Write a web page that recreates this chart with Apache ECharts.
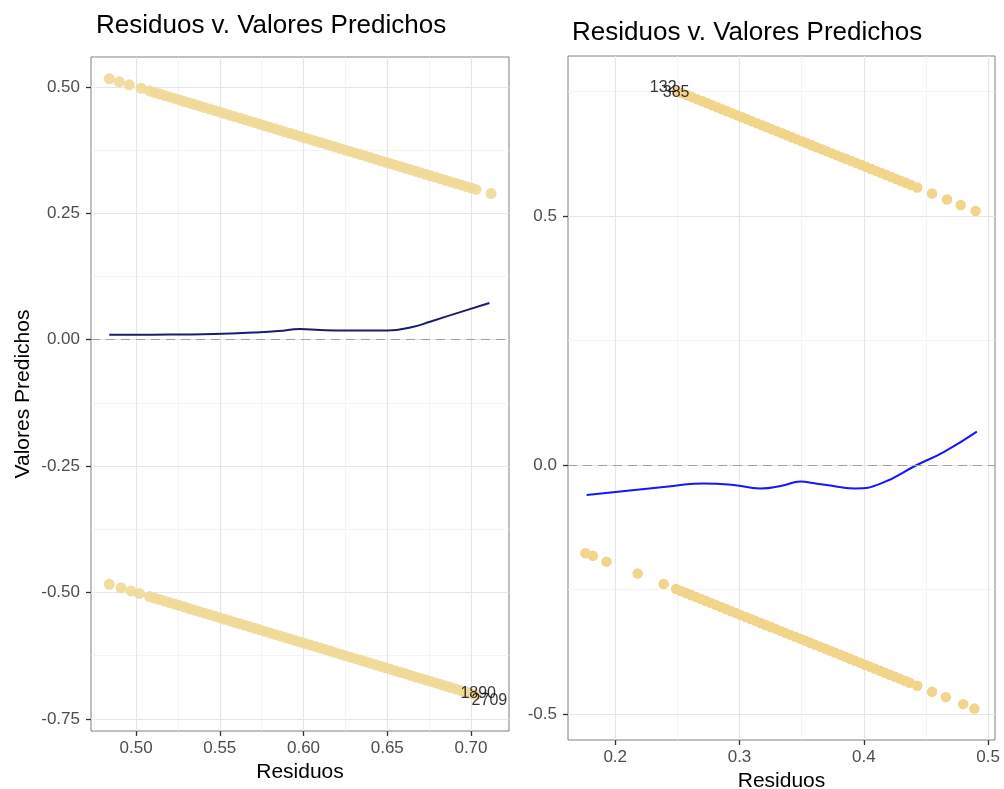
<!DOCTYPE html>
<html>
<head>
<meta charset="utf-8">
<script src="https://cdn.jsdelivr.net/npm/echarts@6/dist/echarts.min.js"></script>
<style>
  html, body { margin: 0; padding: 0; background: #fff; }
  #chart { width: 1004px; height: 789px; }
</style>
</head>
<body>
<div id="chart"></div>
<script>
// panel izquierdo: bandas de puntos
var leftUpperX = [0.484,0.490,0.496,0.503,0.508,0.511,0.514,0.517,0.520,0.523,0.526,0.529,0.532,0.535,0.538,0.541,0.544,0.547,0.550,0.553,0.556,0.559,0.562,0.565,0.568,0.571,0.574,0.577,0.580,0.583,0.586,0.589,0.592,0.595,0.598,0.601,0.604,0.607,0.610,0.613,0.616,0.619,0.622,0.625,0.628,0.631,0.634,0.637,0.640,0.643,0.646,0.649,0.652,0.655,0.658,0.661,0.664,0.667,0.670,0.673,0.676,0.679,0.682,0.685,0.688,0.691,0.694,0.697,0.700,0.703,0.712];
var leftUpperY = [0.516,0.510,0.504,0.497,0.492,0.489,0.486,0.483,0.480,0.477,0.474,0.471,0.468,0.465,0.462,0.459,0.456,0.453,0.450,0.447,0.444,0.441,0.438,0.435,0.432,0.429,0.426,0.423,0.420,0.417,0.414,0.411,0.408,0.405,0.402,0.399,0.396,0.393,0.390,0.387,0.384,0.381,0.378,0.375,0.372,0.369,0.366,0.363,0.360,0.357,0.354,0.351,0.348,0.345,0.342,0.339,0.336,0.333,0.330,0.327,0.324,0.321,0.318,0.315,0.312,0.309,0.306,0.303,0.300,0.297,0.289];
var leftLowerX = [0.484,0.491,0.497,0.502,0.508,0.511,0.514,0.517,0.520,0.523,0.526,0.529,0.532,0.535,0.538,0.541,0.544,0.547,0.550,0.553,0.556,0.559,0.562,0.565,0.568,0.571,0.574,0.577,0.580,0.583,0.586,0.589,0.592,0.595,0.598,0.601,0.604,0.607,0.610,0.613,0.616,0.619,0.622,0.625,0.628,0.631,0.634,0.637,0.640,0.643,0.646,0.649,0.652,0.655,0.658,0.661,0.664,0.667,0.670,0.673,0.676,0.679,0.682,0.685,0.688,0.691,0.694,0.697,0.700,0.703];
var leftLowerY = [-0.484,-0.491,-0.497,-0.502,-0.508,-0.511,-0.514,-0.517,-0.520,-0.523,-0.526,-0.529,-0.532,-0.535,-0.538,-0.541,-0.544,-0.547,-0.550,-0.553,-0.556,-0.559,-0.562,-0.565,-0.568,-0.571,-0.574,-0.577,-0.580,-0.583,-0.586,-0.589,-0.592,-0.595,-0.598,-0.601,-0.604,-0.607,-0.610,-0.613,-0.616,-0.619,-0.622,-0.625,-0.628,-0.631,-0.634,-0.637,-0.640,-0.643,-0.646,-0.649,-0.652,-0.655,-0.658,-0.661,-0.664,-0.667,-0.670,-0.673,-0.676,-0.679,-0.682,-0.685,-0.688,-0.691,-0.694,-0.697,-0.700,-0.703];
// curva suavizada izquierda
var leftSmoothX = [0.484,0.500,0.520,0.540,0.556,0.570,0.585,0.598,0.610,0.626,0.650,0.665,0.676,0.695,0.711];
var leftSmoothY = [0.0095,0.0098,0.0100,0.0105,0.0120,0.0140,0.0170,0.0210,0.0190,0.0180,0.0180,0.0250,0.0360,0.0560,0.0726];
var leftLabels = [["1890", 0.7043, -0.700], ["2709", 0.711, -0.714]];

// panel derecho
var rightUpperX = [0.250,0.254,0.258,0.262,0.266,0.270,0.274,0.278,0.282,0.286,0.290,0.294,0.298,0.302,0.306,0.310,0.314,0.318,0.322,0.326,0.330,0.334,0.338,0.342,0.346,0.350,0.354,0.358,0.362,0.366,0.370,0.374,0.378,0.382,0.386,0.390,0.394,0.398,0.402,0.406,0.410,0.414,0.418,0.422,0.426,0.430,0.434,0.438,0.443,0.455,0.467,0.478,0.490];
var rightUpperY = [0.750,0.746,0.742,0.738,0.734,0.730,0.726,0.722,0.718,0.714,0.710,0.706,0.702,0.698,0.694,0.690,0.686,0.682,0.678,0.674,0.670,0.666,0.662,0.658,0.654,0.650,0.646,0.642,0.638,0.634,0.630,0.626,0.622,0.618,0.614,0.610,0.606,0.602,0.598,0.594,0.590,0.586,0.582,0.578,0.574,0.570,0.566,0.562,0.557,0.545,0.533,0.522,0.510];
var rightLowerX = [0.176,0.182,0.193,0.218,0.239,0.249,0.253,0.257,0.261,0.265,0.269,0.273,0.277,0.281,0.285,0.289,0.293,0.297,0.301,0.305,0.309,0.313,0.317,0.321,0.325,0.329,0.333,0.337,0.341,0.345,0.349,0.353,0.357,0.361,0.365,0.369,0.373,0.377,0.381,0.385,0.389,0.393,0.397,0.401,0.405,0.409,0.413,0.417,0.421,0.425,0.429,0.433,0.437,0.443,0.455,0.466,0.480,0.489];
var rightLowerY = [-0.177,-0.182,-0.194,-0.218,-0.239,-0.249,-0.253,-0.257,-0.261,-0.265,-0.269,-0.273,-0.277,-0.281,-0.285,-0.289,-0.293,-0.297,-0.301,-0.305,-0.309,-0.313,-0.317,-0.321,-0.325,-0.329,-0.333,-0.337,-0.341,-0.345,-0.349,-0.353,-0.357,-0.361,-0.365,-0.369,-0.373,-0.377,-0.381,-0.385,-0.389,-0.393,-0.397,-0.401,-0.405,-0.409,-0.413,-0.417,-0.421,-0.425,-0.429,-0.433,-0.437,-0.443,-0.455,-0.466,-0.480,-0.489];
var rightSmoothX = [0.177,0.2467,0.271,0.295,0.3167,0.335,0.349,0.359,0.380,0.393,0.413,0.4427,0.465,0.491];
var rightSmoothY = [-0.060,-0.042,-0.037,-0.040,-0.047,-0.041,-0.033,-0.036,-0.044,-0.047,-0.038,0.000,0.027,0.067];
var rightLabels = [["132", 0.2386, 0.757], ["385", 0.249, 0.747]];

// marcas de los ejes
var leftXTicks = [0.50, 0.55, 0.60, 0.65, 0.70];
var leftXMinor = [0.475, 0.525, 0.575, 0.625, 0.675];
var leftYTicks = [-0.75, -0.50, -0.25, 0.00, 0.25, 0.50];
var leftYMinor = [-0.625, -0.375, -0.125, 0.125, 0.375];
var rightXTicks = [0.2, 0.3, 0.4, 0.5];
var rightXMinor = [0.25, 0.35, 0.45];
var rightYTicks = [-0.5, 0.0, 0.5];
var rightYMinor = [-0.25, 0.25, 0.75];

function zip(xs, ys) {
  return xs.map(function (x, i) { return [x, ys[i]]; });
}

var FONT = '"Liberation Sans", Arial, sans-serif';

function mainAxis(grid, min, max, ticks, digits, extra) {
  var ax = {
    type: 'value', gridIndex: grid, min: min, max: max,
    axisLine: { show: false, onZero: false },
    axisTick: { show: true, length: 5, customValues: ticks, lineStyle: { color: '#333', width: 1.3 } },
    axisLabel: {
      customValues: ticks, color: '#4d4d4d', fontSize: 17, fontFamily: FONT,
      formatter: function (v) { return v.toFixed(digits); }
    },
    splitLine: { show: true, lineStyle: { color: '#e6e6e6', width: 1.2 } }
  };
  for (var k in extra) ax[k] = extra[k];
  return ax;
}

function minorAxis(grid, min, max, ticks, pos) {
  return {
    type: 'value', gridIndex: grid, min: min, max: max, position: pos,
    axisLine: { show: false, onZero: false },
    axisTick: { show: false, customValues: ticks },
    axisLabel: { show: false },
    splitLine: { show: true, lineStyle: { color: '#f1f1f1', width: 0.8 } }
  };
}

var chart = echarts.init(document.getElementById('chart'), null, { renderer: 'canvas' });

var dotColorL = '#EFD898';
var dotColorR = '#F2D58C';

chart.setOption({
  backgroundColor: '#fff',
  animation: false,
  title: [
    { text: 'Residuos v. Valores Predichos', left: 91, top: 8,
      textStyle: { fontSize: 26, fontWeight: 'normal', color: '#000', fontFamily: FONT } },
    { text: 'Residuos v. Valores Predichos', left: 567, top: 15,
      textStyle: { fontSize: 26, fontWeight: 'normal', color: '#000', fontFamily: FONT } }
  ],
  grid: [
    { left: 91, top: 57, width: 418, height: 674, show: true, borderColor: '#808080', borderWidth: 1, backgroundColor: '#fff', outerBoundsMode: 'none' },
    { left: 568, top: 56, width: 427, height: 684, show: true, borderColor: '#808080', borderWidth: 1, backgroundColor: '#fff', outerBoundsMode: 'none' }
  ],
  xAxis: [
    mainAxis(0, 0.4731, 0.7227, leftXTicks, 2, {
      name: 'Residuos', nameLocation: 'middle', nameGap: 27,
      nameTextStyle: { fontSize: 21, color: '#000', fontFamily: FONT },
      axisLabel: { customValues: leftXTicks, color: '#4d4d4d', fontSize: 17, fontFamily: FONT, margin: 9,
        formatter: function (v) { return v.toFixed(2); } }
    }),
    minorAxis(0, 0.4731, 0.7227, leftXMinor, 'bottom'),
    mainAxis(1, 0.162, 0.5056, rightXTicks, 1, {
      name: 'Residuos', nameLocation: 'middle', nameGap: 29,
      nameTextStyle: { fontSize: 21, color: '#000', fontFamily: FONT },
      axisLabel: { customValues: rightXTicks, color: '#4d4d4d', fontSize: 17, fontFamily: FONT, margin: 9,
        formatter: function (v) { return v.toFixed(1); } }
    }),
    minorAxis(1, 0.162, 0.5056, rightXMinor, 'bottom')
  ],
  yAxis: [
    mainAxis(0, -0.774, 0.559, leftYTicks, 2, {
      name: 'Valores Predichos', nameLocation: 'middle', nameGap: 57,
      nameTextStyle: { fontSize: 21, color: '#000', fontFamily: FONT },
      axisLabel: { customValues: leftYTicks, color: '#4d4d4d', fontSize: 17, fontFamily: FONT, margin: 11,
        formatter: function (v) { return v.toFixed(2); } }
    }),
    minorAxis(0, -0.774, 0.559, leftYMinor, 'left'),
    mainAxis(1, -0.552, 0.821, rightYTicks, 1, {
      axisLabel: { customValues: rightYTicks, color: '#4d4d4d', fontSize: 17, fontFamily: FONT, margin: 11,
        formatter: function (v) { return v.toFixed(1); } }
    }),
    minorAxis(1, -0.552, 0.821, rightYMinor, 'left')
  ],
  series: [
    {
      type: 'scatter', xAxisIndex: 0, yAxisIndex: 0, symbolSize: 11,
      itemStyle: { color: dotColorL, opacity: 0.9 },
      data: zip(leftUpperX, leftUpperY).concat(zip(leftLowerX, leftLowerY)),
      markLine: {
        silent: true, symbol: 'none', label: { show: false },
        lineStyle: { color: '#a0a0a0', type: [9, 6], width: 1 },
        data: [{ yAxis: 0 }]
      }
    },
    {
      type: 'line', xAxisIndex: 0, yAxisIndex: 0, smooth: true, showSymbol: false,
      lineStyle: { color: '#1c1c6e', width: 2 },
      data: zip(leftSmoothX, leftSmoothY)
    },
    {
      type: 'scatter', xAxisIndex: 0, yAxisIndex: 0, symbolSize: 0,
      label: { show: true, position: 'inside', color: '#000', fontSize: 16, fontFamily: FONT,
        formatter: function (p) { return p.data.name; } },
      data: leftLabels.map(function (l) { return { name: l[0], value: [l[1], l[2]] }; })
    },
    {
      type: 'scatter', xAxisIndex: 2, yAxisIndex: 2, symbolSize: 10.5,
      itemStyle: { color: dotColorR, opacity: 1 },
      data: zip(rightUpperX, rightUpperY).concat(zip(rightLowerX, rightLowerY)),
      markLine: {
        silent: true, symbol: 'none', label: { show: false },
        lineStyle: { color: '#a0a0a0', type: [9, 6], width: 1 },
        data: [{ yAxis: 0 }]
      }
    },
    {
      type: 'line', xAxisIndex: 2, yAxisIndex: 2, smooth: true, showSymbol: false,
      lineStyle: { color: '#1515ff', width: 2 },
      data: zip(rightSmoothX, rightSmoothY)
    },
    {
      type: 'scatter', xAxisIndex: 2, yAxisIndex: 2, symbolSize: 0,
      label: { show: true, position: 'inside', color: '#000', fontSize: 16, fontFamily: FONT,
        formatter: function (p) { return p.data.name; } },
      data: rightLabels.map(function (l) { return { name: l[0], value: [l[1], l[2]] }; })
    }
  ]
});
</script>
</body>
</html>
